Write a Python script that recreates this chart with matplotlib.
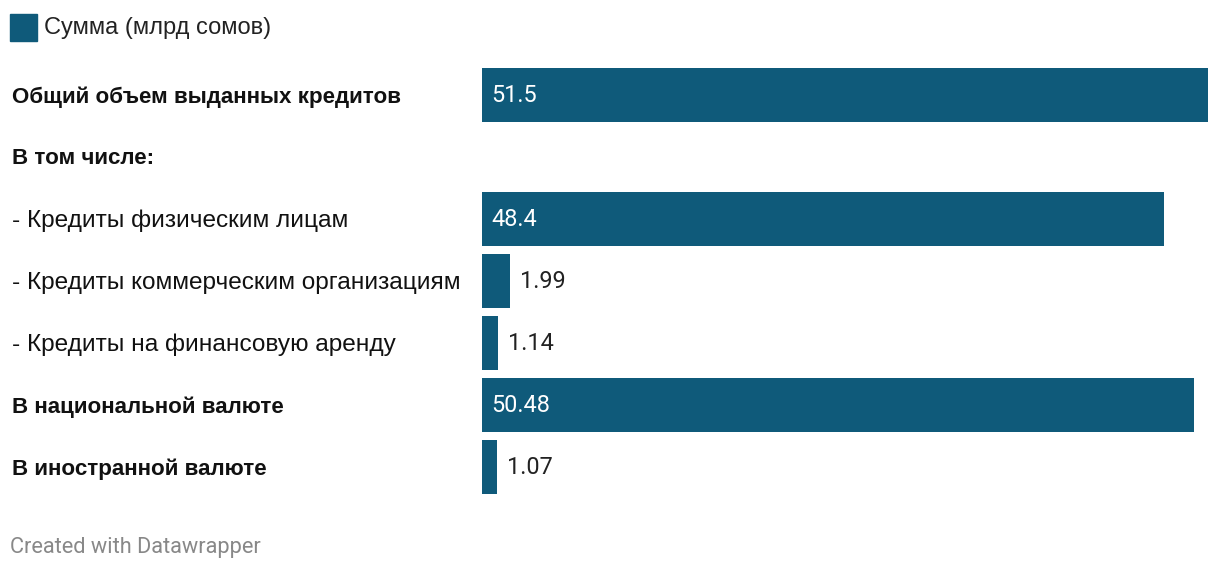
import matplotlib
matplotlib.use("Agg")
import matplotlib.pyplot as plt
import matplotlib.transforms as mtransforms

categories = [
    "Общий объем выданных кредитов",
    "В том числе:",
    "- Кредиты физическим лицам",
    "- Кредиты коммерческим организациям",
    "- Кредиты на финансовую аренду",
    "В национальной валюте",
    "В иностранной валюте",
]
values = [51.5, None, 48.4, 1.99, 1.14, 50.48, 1.07]
value_labels = ["51.5", "", "48.4", "1.99", "1.14", "50.48", "1.07"]
bold_rows = [True, True, False, False, False, True, True]
series_name = "Сумма (млрд сомов)"
footer = "Created with Datawrapper"

W, H = 1220, 572
color = "#0f5a7a"

fig = plt.figure(figsize=(W / 100, H / 100), dpi=100)
fig.patch.set_facecolor("white")

x0, x1 = 482, 1208
ytop, ybot = 64, 498
ax = fig.add_axes([x0 / W, 1 - ybot / H, (x1 - x0) / W, (ybot - ytop) / H])
ax.set_xlim(0, 51.5)
n = len(categories)
ax.set_ylim(n - 0.5, -0.5)
ax.axis("off")

for i, (v, lab) in enumerate(zip(values, value_labels)):
    if v is None:
        continue
    ax.barh(i, v, height=0.87, color=color, edgecolor="none")
    if v > 10:
        ax.annotate(lab, xy=(0, i), xytext=(9, 0), textcoords="offset pixels",
                    ha="left", va="center", color="white", fontsize=16.9,
                    family="Roboto")
    else:
        ax.annotate(lab, xy=(v, i), xytext=(10, 0), textcoords="offset pixels",
                    ha="left", va="center", color="#222222", fontsize=16.9,
                    family="Roboto")

trans = mtransforms.blended_transform_factory(fig.transFigure, ax.transData)
for i, (c, b) in enumerate(zip(categories, bold_rows)):
    ax.text(12 / W, i + 0.03, c, transform=trans, ha="left", va="center",
            fontsize=16.1 if b else 17.6, family="Liberation Sans",
            fontweight="bold" if b else "normal", color="#111111",
            clip_on=False)

# legend
fig.patches.append(plt.Rectangle((10 / W, 1 - 41 / H), 27 / W, 27 / H,
                                 transform=fig.transFigure, color=color))
fig.text(44 / W, 1 - 28 / H, series_name, ha="left", va="center",
         fontsize=17, family="Liberation Sans", color="#222222")

fig.text(10 / W, 1 - 547 / H, footer, ha="left", va="center",
         fontsize=15.7, family="Roboto", color="#888888")

fig.savefig("out.png", dpi=100, facecolor="white")
